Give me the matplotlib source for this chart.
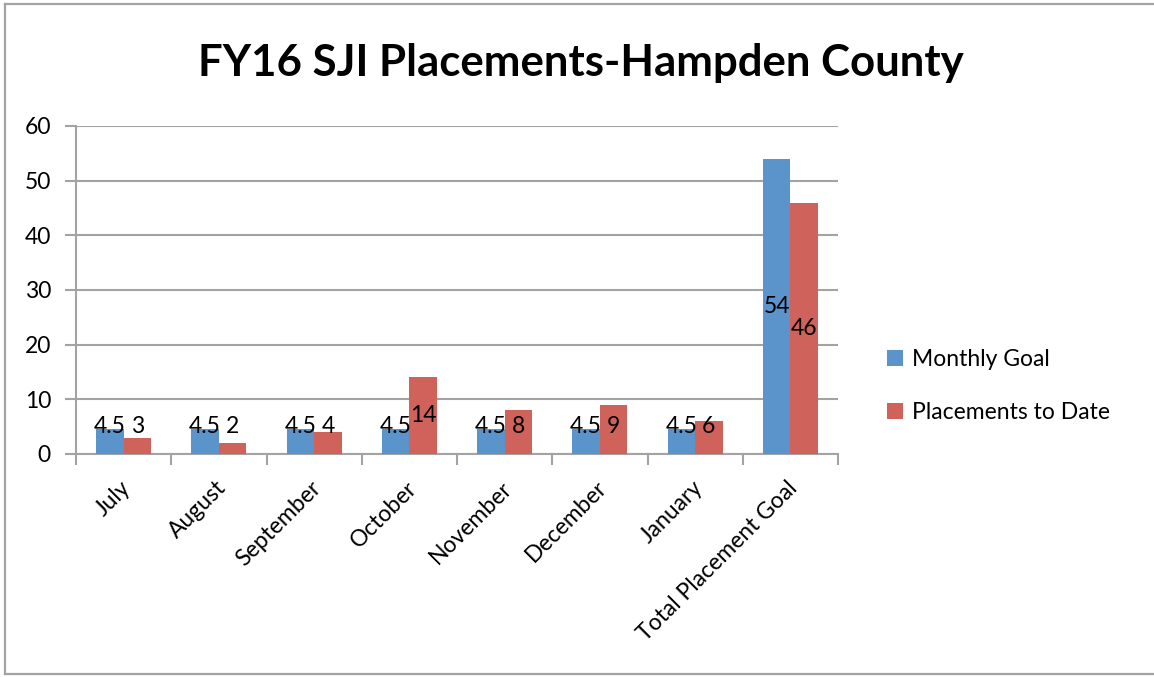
import matplotlib
matplotlib.use("Agg")
import matplotlib.pyplot as plt
from matplotlib.lines import Line2D
from matplotlib.patches import Patch
import matplotlib.transforms as mtransforms
import numpy as np

categories = ["July", "August", "September", "October", "November",
              "December", "January", "Total Placement Goal"]
monthly_goal = [4.5, 4.5, 4.5, 4.5, 4.5, 4.5, 4.5, 54]
placements = [3, 2, 4, 14, 8, 9, 6, 46]
goal_labels = ["4.5", "4.5", "4.5", "4.5", "4.5", "4.5", "4.5", "54"]
place_labels = ["3", "2", "4", "14", "8", "9", "6", "46"]
series_names = ["Monthly Goal", "Placements to Date"]
title = "FY16 SJI Placements-Hampden County"

BLUE = "#5b93cb"
RED = "#cf625a"
GRID = "#a3a3a3"
FONT = "Lato"
FS = 16.5

W, H = 1154, 677
fig = plt.figure(figsize=(W / 100, H / 100), dpi=100)
plt.rcParams["font.family"] = [FONT, "DejaVu Sans"]

# outer border (left, top, bottom only)
bl, bt, bb = 5 / W, 1 - 4 / H, 1 - 674 / H
for xs, ys in [((bl, bl), (bb, bt)), ((bl, 1.0), (bt, bt)), ((bl, 1.0), (bb, bb))]:
    fig.add_artist(Line2D(xs, ys, transform=fig.transFigure, color=GRID, linewidth=1.6))

ax = fig.add_axes([76 / W, 1 - 454 / H, (838 - 76) / W, (454 - 126) / H])
x = np.arange(len(categories)) + 0.5
bw = 0.289
ax.bar(x - bw / 2, monthly_goal, bw, color=BLUE, zorder=3)
ax.bar(x + bw / 2, placements, bw, color=RED, zorder=3)

for xi, v, lab in zip(x, monthly_goal, goal_labels):
    ax.text(xi - bw / 2, max(v / 2, 5.1), lab, ha="center", va="center",
            fontsize=FS, color="black", zorder=4)
for xi, v, lab in zip(x, placements, place_labels):
    ax.text(xi + bw / 2, max(v / 2, 5.1), lab, ha="center", va="center",
            fontsize=FS, color="black", zorder=4)

ax.set_xlim(0, len(categories))
ax.set_ylim(0, 60)
ax.set_yticks(range(0, 61, 10))
ax.yaxis.grid(True, color=GRID, linewidth=1.5, zorder=0)
ax.tick_params(axis="y", length=8, width=1.5, color=GRID, labelsize=FS, pad=10)
ax.set_xticks(x)
ax.set_xticklabels(categories, rotation=45, ha="right", va="center",
                   rotation_mode="anchor", fontsize=FS)
ax.tick_params(axis="x", which="major", length=0, pad=22)
offset = mtransforms.ScaledTranslation(4 / 100, 0, fig.dpi_scale_trans)
for lbl in ax.get_xticklabels():
    lbl.set_transform(lbl.get_transform() + offset)
ax.set_xticks(np.arange(0, len(categories) + 1), minor=True)
ax.tick_params(axis="x", which="minor", length=8, width=1.5, color=GRID)
for side in ["top", "right"]:
    ax.spines[side].set_visible(False)
for side in ["left", "bottom"]:
    ax.spines[side].set_color(GRID)
    ax.spines[side].set_linewidth(1.5)
ax.set_axisbelow(True)

fig.text(581 / W, 1 - 63 / H, title, ha="center", va="center",
         fontsize=31.5, fontweight="bold", color="black")

handles = [Patch(facecolor=BLUE), Patch(facecolor=RED)]
leg = fig.legend(handles, series_names, loc="center left",
                 bbox_to_anchor=(866 / W, 1 - 386 / H), frameon=False,
                 fontsize=FS, handlelength=0.7, handleheight=0.7,
                 handletextpad=0.4, labelspacing=1.4)

fig.savefig("out.png", dpi=100)
